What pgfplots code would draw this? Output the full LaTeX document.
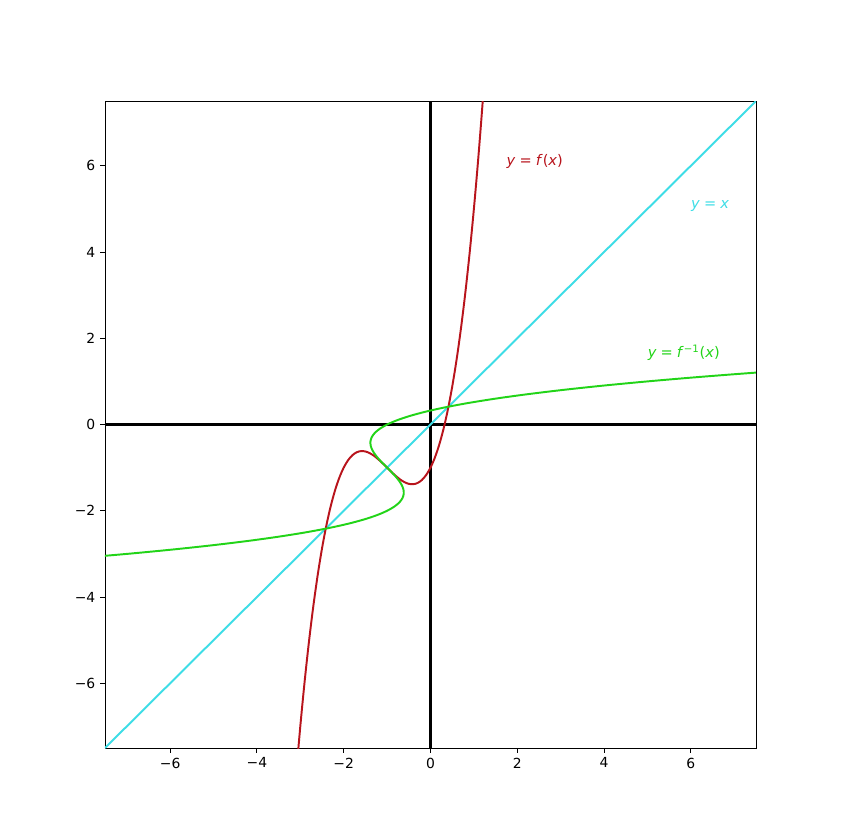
\documentclass[border=0pt]{standalone}
\usepackage{pgfplots}
\pgfplotsset{compat=1.18}
\usepackage{fontspec}
\setmainfont{DejaVu Sans}
\definecolor{fred}{HTML}{B8141C}
\definecolor{finv}{HTML}{22D418}
\definecolor{idline}{HTML}{3EDDE6}

% f(x)
\pgfplotstableread{
x y
-3.1 -8.161
-3.0 -7.000
-2.9 -5.959
-2.8 -5.032
-2.7 -4.213
-2.6 -3.496
-2.5 -2.875
-2.4 -2.344
-2.3 -1.897
-2.2 -1.528
-2.1 -1.231
-2.0 -1.000
-1.9 -0.829
-1.8 -0.712
-1.7 -0.643
-1.6 -0.616
-1.5 -0.625
-1.4 -0.664
-1.3 -0.727
-1.2 -0.808
-1.1 -0.901
-1.0 -1.000
-0.9 -1.099
-0.8 -1.192
-0.7 -1.273
-0.6 -1.336
-0.5 -1.375
-0.4 -1.384
-0.3 -1.357
-0.2 -1.288
-0.1 -1.171
0.0 -1.000
0.1 -0.769
0.2 -0.472
0.3 -0.103
0.4 0.344
0.5 0.875
0.6 1.496
0.7 2.213
0.8 3.032
0.9 3.959
1.0 5.000
1.1 6.161
1.2 7.448
1.3 8.867
}\ftable

\begin{document}
\begin{tikzpicture}
\begin{axis}[
    at={(0,0)}, anchor=south west,
    scale only axis,
    width=468.7pt, height=465.8pt,
    xmin=-7.5, xmax=7.5, ymin=-7.5, ymax=7.5,
    xtick={-6,-4,...,6}, ytick={-6,-4,...,6},
    xticklabels={−6,−4,−2,0,2,4,6},
    yticklabels={−6,−4,−2,0,2,4,6},
    tick align=outside,
    tick style={black, line width=0.6pt},
    major tick length=3.5pt,
    xtick pos=bottom, ytick pos=left,
    axis line style={line width=0.6pt},
    tick label style={font=\fontsize{10}{12}\selectfont},
    clip=true,
]
\draw[black, line width=1.5pt] (axis cs:-7.5,0) -- (axis cs:7.5,0);
\draw[black, line width=1.5pt] (axis cs:0,-7.5) -- (axis cs:0,7.5);

\addplot[idline, line width=1.4pt] coordinates {(-7.5,-7.5) (7.5,7.5)};
\addplot[fred, line width=1.4pt, smooth] table[x=x, y=y] {\ftable};
\addplot[finv, line width=1.4pt, smooth] table[x=y, y=x] {\ftable};

\node[anchor=base west, text=fred, font=\fontsize{10.5}{12}\selectfont, inner sep=0pt]
  at (axis cs:1.75,6.0) {\textit{y}\;=\;\textit{f}(\textit{x})};
\node[anchor=base west, text=idline, font=\fontsize{10.5}{12}\selectfont, inner sep=0pt]
  at (axis cs:6.0,5.0) {\textit{y}\;=\;\textit{x}};
\node[anchor=base west, text=finv, font=\fontsize{10.5}{12}\selectfont, inner sep=0pt]
  at (axis cs:5.0,1.55) {\textit{y}\;=\;\textit{f}\textsuperscript{−1}(\textit{x})};
\end{axis}
\path (-75.6pt,-66.24pt) rectangle (529.2pt,538.56pt);
\end{tikzpicture}
\end{document}
